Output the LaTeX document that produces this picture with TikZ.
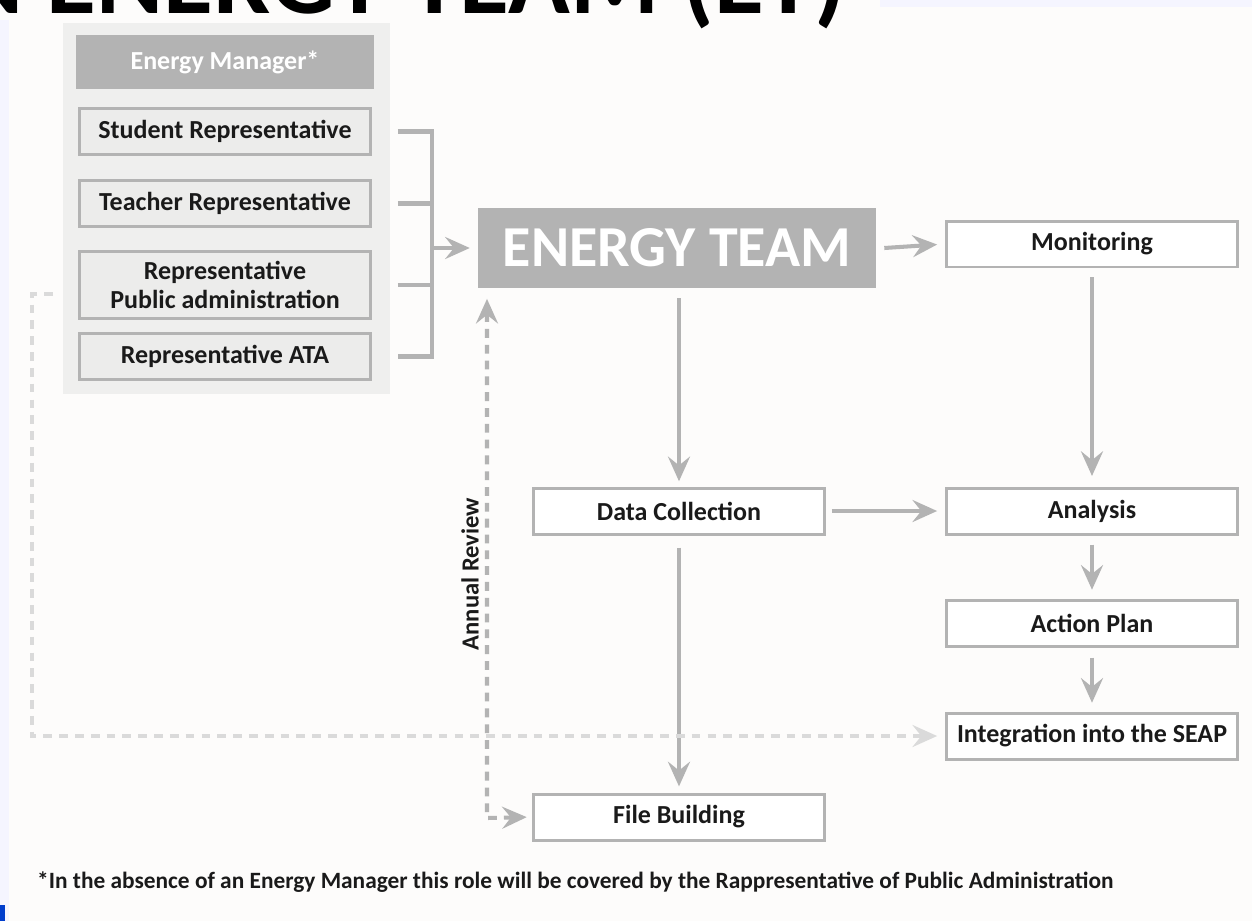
\documentclass[tikz,border=0pt]{standalone}
\usepackage{fontspec}
\setmainfont{Carlito}
\usetikzlibrary{calc,arrows.meta}
\definecolor{etgray}{HTML}{B3B3B3}
\definecolor{panelgray}{HTML}{EFEFEE}
\definecolor{repfill}{HTML}{ECECEB}
\definecolor{seapdash}{HTML}{DADADA}
\definecolor{pagebg}{HTML}{FDFCFB}
\definecolor{inktext}{HTML}{1A1A1A}
\tikzset{
  repbox/.style={draw=etgray, line width=1.7pt, fill=repfill, text=inktext,
    minimum width=5.82cm, minimum height=0.92cm, inner sep=0pt, align=center,
    font=\fontsize{14.8}{17}\selectfont\bfseries},
  flowbox/.style={repbox, fill=white},
  greybox/.style={fill=etgray, text=white, inner sep=0pt},
  grayline/.style={draw=etgray, line width=2.3pt},
  arr/.style={grayline, -{Stealth[length=14pt,width=12.5pt,inset=5pt]}},
  seapline/.style={draw=seapdash, line width=2.3pt, dash pattern=on 5pt off 4pt,
    -{Stealth[length=14pt,width=12.5pt,inset=5pt]}},
  reviewline/.style={draw=etgray, line width=2.3pt, dash pattern=on 5pt off 4pt,
    {Stealth[length=14pt,width=12.5pt,inset=5pt]}-{Stealth[length=14pt,width=12.5pt,inset=5pt]}}
}

\begin{document}
\begin{tikzpicture}[x=0.02cm, y=-0.02cm]
		%%%%% START %%%%%
		\useasboundingbox (0,0) rectangle (1252,921);
		\fill[pagebg] (0,0) rectangle (1252,921);
		\fill[blue!4] (0,20) rectangle (9,921);
		\fill[blue!4] (880,0) rectangle (1252,7);
		\fill[blue!70!cyan!80!black] (0,905) rectangle (5,921);
		
		% title, cut off by the top edge
		\begin{scope}
			\clip (0,0) rectangle (1252,921);
			\node[anchor=base east, font=\fontsize{58}{62}\selectfont\bfseries] (title) at (852,13) {COSTITUZIONE DI UN ENERGY TEAM (ET)};
		\end{scope}
		
		% members
		\fill[panelgray] (63,23) rectangle (390,394);
		\node[greybox, minimum width=5.96cm, minimum height=1.08cm, font=\fontsize{14.8}{17}\selectfont\bfseries] (em) at (225,62) {Energy Manager*};
		\node[repbox] (stud) at (225,131.5) {Student Representative};
		\node[repbox] (teach) at (225,203.5) {Teacher Representative};
		\node[repbox, minimum height=1.34cm] (pub) at (225,285) {Representative\\Public administration};
		\node[repbox] (ata) at (225,356.5) {Representative ATA};
		
		\coordinate (brk) at (432,0);
		\draw[grayline] ($(stud.east)+(26,0)$) -| (brk |- ata.east) -- ($(ata.east)+(26,0)$);
		\draw[grayline] ($(teach.east)+(26,0)$) -- (brk |- teach.east);
		\draw[grayline] ($(pub.east)+(26,0)$) -- (brk |- pub.east);
		
		% flow
		\node[greybox, minimum width=7.96cm, minimum height=1.6cm, font=\fontsize{33}{36}\selectfont\bfseries] (et) at (677,248) {ENERGY TEAM};
		\node[flowbox] (mon) at (1092,244) {Monitoring};
		\node[flowbox] (data) at (679,511) {Data Collection};
		\node[flowbox] (ana) at (1092,511) {Analysis};
		\node[flowbox] (act) at (1092,623) {Action Plan};
		\node[flowbox] (seap) at (1092,736) {Integration into the SEAP};
		\node[flowbox] (file) at (679,817) {File Building};
		
		\draw[arr, shorten >=4.5pt] (brk |- et.west) -- (et.west);
		\draw[arr, shorten >=4.5pt] ($(et.east)+(8,0)$) -- (mon.west);
		\draw[arr, shorten >=3pt] ($(et.south)+(2,10)$) -- (data.north);
		\draw[arr, shorten >=3.5pt] ($(data.south)+(0,12)$) -- (file.north);
		\draw[arr, shorten >=4.5pt] ($(data.east)+(6,0)$) -- (ana.west);
		\draw[arr, shorten >=6pt] ($(mon.south)+(0,9)$) -- (ana.north);
		\draw[arr, shorten >=5pt] ($(ana.south)+(0,9)$) -- (act.north);
		\draw[arr, shorten >=5pt] ($(act.south)+(0,10)$) -- (seap.north);
		
		% dashed links
		\coordinate (pa) at (53,294);
		\draw[seapline, shorten >=4.5pt] (pa) -- (32,294) |- (seap.west);
		\coordinate (rv) at (487,818);
		\draw[reviewline, shorten <=6pt, shorten >=3pt] (et.south west -| rv) -- (rv) -- (file.west);
		\node[rotate=90, text=inktext, font=\fontsize{14}{16}\selectfont\bfseries] (review) at (470,574) {Annual Review};
		
		% footnote
		\node[anchor=west, text=inktext, font=\fontsize{13.3}{16}\selectfont\bfseries] (note) at (31,882) {*In the absence of an Energy Manager this role will be covered by the Rappresentative of Public Administration};
		%%%%% END %%%%%
\end{tikzpicture}
\end{document}
